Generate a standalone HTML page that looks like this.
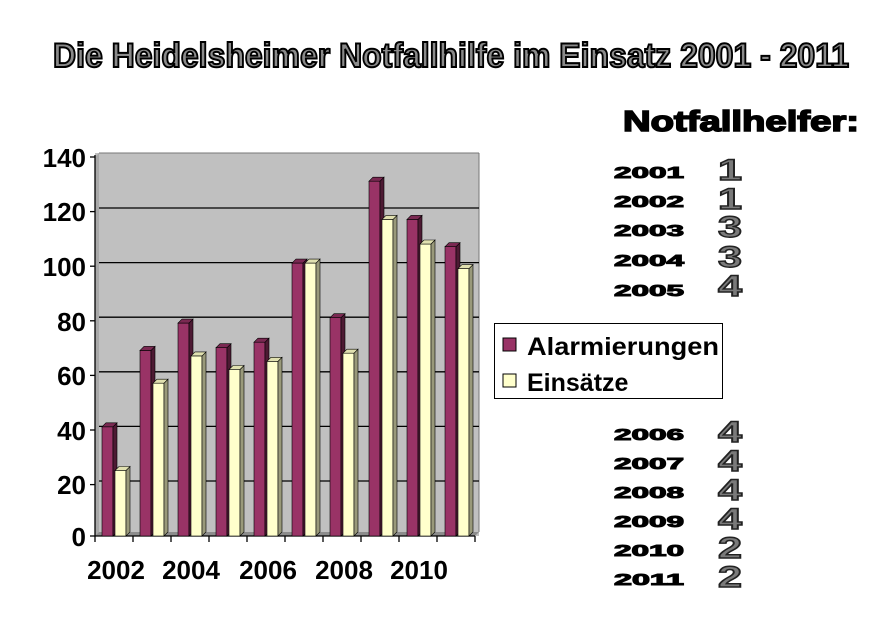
<!DOCTYPE html>
<html><head><meta charset="utf-8"><style>
html,body{margin:0;padding:0;background:#fff;}
svg{display:block;}
</style></head><body>
<svg width="895" height="631" viewBox="0 0 895 631" xmlns="http://www.w3.org/2000/svg">
<rect width="895" height="631" fill="#fff"/>
<text x="451" y="67" text-anchor="middle" font-family="Liberation Sans, sans-serif" font-weight="bold" font-size="34" fill="#8a8a8a" stroke="#000" stroke-width="2" textLength="796" lengthAdjust="spacingAndGlyphs">Die Heidelsheimer Notfallhilfe im Einsatz 2001 - 2011</text>
<text x="623" y="131" font-family="Liberation Sans, sans-serif" font-weight="bold" font-size="29" fill="#000" stroke="#000" stroke-width="1.6" textLength="236" lengthAdjust="spacingAndGlyphs">Notfallhelfer:</text>
<g font-family="Liberation Sans, sans-serif" font-weight="bold">
<g font-size="16" fill="#000" stroke="#000" stroke-width="1">
<text x="614" y="178" textLength="70" lengthAdjust="spacingAndGlyphs">2001</text>
<text x="614" y="207" textLength="70" lengthAdjust="spacingAndGlyphs">2002</text>
<text x="614" y="236" textLength="70" lengthAdjust="spacingAndGlyphs">2003</text>
<text x="614" y="266" textLength="70" lengthAdjust="spacingAndGlyphs">2004</text>
<text x="614" y="296" textLength="70" lengthAdjust="spacingAndGlyphs">2005</text>
<text x="614" y="440" textLength="70" lengthAdjust="spacingAndGlyphs">2006</text>
<text x="614" y="469" textLength="70" lengthAdjust="spacingAndGlyphs">2007</text>
<text x="614" y="498" textLength="70" lengthAdjust="spacingAndGlyphs">2008</text>
<text x="614" y="527" textLength="70" lengthAdjust="spacingAndGlyphs">2009</text>
<text x="614" y="556" textLength="70" lengthAdjust="spacingAndGlyphs">2010</text>
<text x="614" y="585" textLength="70" lengthAdjust="spacingAndGlyphs">2011</text>
</g>
<g font-size="30" fill="#7a7a7a" stroke="#222" stroke-width="1.4">
<text x="718" y="180" textLength="24" lengthAdjust="spacingAndGlyphs">1</text>
<text x="718" y="209" textLength="24" lengthAdjust="spacingAndGlyphs">1</text>
<text x="718" y="237" textLength="24" lengthAdjust="spacingAndGlyphs">3</text>
<text x="718" y="267" textLength="24" lengthAdjust="spacingAndGlyphs">3</text>
<text x="718" y="296" textLength="24" lengthAdjust="spacingAndGlyphs">4</text>
<text x="718" y="442" textLength="24" lengthAdjust="spacingAndGlyphs">4</text>
<text x="718" y="471" textLength="24" lengthAdjust="spacingAndGlyphs">4</text>
<text x="718" y="500" textLength="24" lengthAdjust="spacingAndGlyphs">4</text>
<text x="718" y="529" textLength="24" lengthAdjust="spacingAndGlyphs">4</text>
<text x="718" y="558" textLength="24" lengthAdjust="spacingAndGlyphs">2</text>
<text x="718" y="587" textLength="24" lengthAdjust="spacingAndGlyphs">2</text>
</g>
</g>
<rect x="95" y="153" width="384" height="383" fill="#c0c0c0"/>
<polygon points="95,157 99,153 99,532 95,536" fill="#a8a8a8"/>
<polygon points="95,536 99,532 479,532 475,536" fill="#8c8c8c"/>
<line x1="99" y1="153" x2="479" y2="153" stroke="#777"/>
<line x1="479" y1="153" x2="479" y2="532" stroke="#777"/>
<g stroke="#000" stroke-width="1.3">
<line x1="99" y1="208" x2="479" y2="208"/>
<line x1="99" y1="262.6" x2="479" y2="262.6"/>
<line x1="99" y1="317.2" x2="479" y2="317.2"/>
<line x1="99" y1="371.8" x2="479" y2="371.8"/>
<line x1="99" y1="426.4" x2="479" y2="426.4"/>
<line x1="99" y1="481" x2="479" y2="481"/>
<line x1="95" y1="155" x2="95" y2="536"/>
<line x1="95" y1="536" x2="475" y2="536"/>
<line x1="90" y1="157" x2="95" y2="157"/><line x1="90" y1="211.6" x2="95" y2="211.6"/><line x1="90" y1="266.2" x2="95" y2="266.2"/><line x1="90" y1="320.8" x2="95" y2="320.8"/><line x1="90" y1="375.4" x2="95" y2="375.4"/><line x1="90" y1="430" x2="95" y2="430"/><line x1="90" y1="484.6" x2="95" y2="484.6"/><line x1="90" y1="536" x2="95" y2="536"/>
<line x1="95" y1="536" x2="95" y2="542"/><line x1="133" y1="536" x2="133" y2="542"/><line x1="171" y1="536" x2="171" y2="542"/><line x1="209" y1="536" x2="209" y2="542"/><line x1="247" y1="536" x2="247" y2="542"/><line x1="285" y1="536" x2="285" y2="542"/><line x1="323" y1="536" x2="323" y2="542"/><line x1="361" y1="536" x2="361" y2="542"/><line x1="399" y1="536" x2="399" y2="542"/><line x1="437" y1="536" x2="437" y2="542"/><line x1="475" y1="536" x2="475" y2="542"/>
</g>
<g stroke="#000" stroke-width="0.6">
<g fill="#993366">
<rect x="102" y="426.8" width="11" height="109.2"/>
<rect x="140" y="350.4" width="11" height="185.6"/>
<rect x="178" y="323.1" width="11" height="212.9"/>
<rect x="216" y="347.7" width="11" height="188.3"/>
<rect x="254" y="342.2" width="11" height="193.8"/>
<rect x="292" y="263.1" width="11" height="272.9"/>
<rect x="330" y="317.7" width="11" height="218.3"/>
<rect x="369" y="181.2" width="11" height="354.8"/>
<rect x="407" y="219.4" width="11" height="316.6"/>
<rect x="445" y="246.7" width="11" height="289.3"/>
</g>
<g fill="#4d1a33">
<polygon points="113,536 117,532 117,422.8 113,426.8"/>
<polygon points="151,536 155,532 155,346.4 151,350.4"/>
<polygon points="189,536 193,532 193,319.1 189,323.1"/>
<polygon points="227,536 231,532 231,343.7 227,347.7"/>
<polygon points="265,536 269,532 269,338.2 265,342.2"/>
<polygon points="303,536 307,532 307,259.1 303,263.1"/>
<polygon points="341,536 345,532 345,313.7 341,317.7"/>
<polygon points="380,536 384,532 384,177.2 380,181.2"/>
<polygon points="418,536 422,532 422,215.4 418,219.4"/>
<polygon points="456,536 460,532 460,242.7 456,246.7"/>
</g>
<g fill="#7a2952">
<polygon points="102,426.8 106,422.8 117,422.8 113,426.8"/>
<polygon points="140,350.4 144,346.4 155,346.4 151,350.4"/>
<polygon points="178,323.1 182,319.1 193,319.1 189,323.1"/>
<polygon points="216,347.7 220,343.7 231,343.7 227,347.7"/>
<polygon points="254,342.2 258,338.2 269,338.2 265,342.2"/>
<polygon points="292,263.1 296,259.1 307,259.1 303,263.1"/>
<polygon points="330,317.7 334,313.7 345,313.7 341,317.7"/>
<polygon points="369,181.2 373,177.2 384,177.2 380,181.2"/>
<polygon points="407,219.4 411,215.4 422,215.4 418,219.4"/>
<polygon points="445,246.7 449,242.7 460,242.7 456,246.7"/>
</g>
<g fill="#ffffcc">
<rect x="115" y="470.5" width="11" height="65.5"/>
<rect x="153" y="383.2" width="11" height="152.8"/>
<rect x="191" y="355.9" width="11" height="180.1"/>
<rect x="229" y="369.5" width="11" height="166.5"/>
<rect x="267" y="361.3" width="11" height="174.7"/>
<rect x="305" y="263.1" width="11" height="272.9"/>
<rect x="343" y="353.2" width="11" height="182.8"/>
<rect x="382" y="219.4" width="11" height="316.6"/>
<rect x="420" y="244.0" width="11" height="292"/>
<rect x="458" y="268.6" width="11" height="267.4"/>
</g>
<g fill="#99997a">
<polygon points="126,536 130,532 130,466.5 126,470.5"/>
<polygon points="164,536 168,532 168,379.2 164,383.2"/>
<polygon points="202,536 206,532 206,351.9 202,355.9"/>
<polygon points="240,536 244,532 244,365.5 240,369.5"/>
<polygon points="278,536 282,532 282,357.3 278,361.3"/>
<polygon points="316,536 320,532 320,259.1 316,263.1"/>
<polygon points="354,536 358,532 358,349.2 354,353.2"/>
<polygon points="393,536 397,532 397,215.4 393,219.4"/>
<polygon points="431,536 435,532 435,240.0 431,244.0"/>
<polygon points="469,536 473,532 473,264.6 469,268.6"/>
</g>
<g fill="#e0e0b0">
<polygon points="115,470.5 119,466.5 130,466.5 126,470.5"/>
<polygon points="153,383.2 157,379.2 168,379.2 164,383.2"/>
<polygon points="191,355.9 195,351.9 206,351.9 202,355.9"/>
<polygon points="229,369.5 233,365.5 244,365.5 240,369.5"/>
<polygon points="267,361.3 271,357.3 282,357.3 278,361.3"/>
<polygon points="305,263.1 309,259.1 320,259.1 316,263.1"/>
<polygon points="343,353.2 347,349.2 358,349.2 354,353.2"/>
<polygon points="382,219.4 386,215.4 397,215.4 393,219.4"/>
<polygon points="420,244.0 424,240.0 435,240.0 431,244.0"/>
<polygon points="458,268.6 462,264.6 473,264.6 469,268.6"/>
</g>
</g>
<g font-family="Liberation Sans, sans-serif" font-weight="bold" font-size="26" fill="#000" text-anchor="end">
<text x="86" y="167">140</text><text x="86" y="221">120</text><text x="86" y="276">100</text><text x="86" y="331">80</text><text x="86" y="385">60</text><text x="86" y="440">40</text><text x="86" y="494">20</text><text x="86" y="546">0</text>
</g>
<g font-family="Liberation Sans, sans-serif" font-weight="bold" font-size="26" fill="#000" text-anchor="middle">
<text x="116" y="579">2002</text><text x="191" y="579">2004</text><text x="268" y="579">2006</text><text x="344" y="579">2008</text><text x="419" y="579">2010</text>
</g>
<rect x="494.5" y="323.5" width="228" height="75" fill="#fff" stroke="#000"/>
<rect x="503" y="338" width="13" height="13" fill="#993366" stroke="#000"/>
<rect x="503" y="374" width="13" height="13" fill="#ffffcc" stroke="#000"/>
<g font-family="Liberation Sans, sans-serif" font-weight="bold" font-size="25" fill="#000">
<text x="527" y="355" textLength="192" lengthAdjust="spacingAndGlyphs">Alarmierungen</text>
<text x="527" y="391">Einsätze</text>
</g>
</svg>
</body></html>
